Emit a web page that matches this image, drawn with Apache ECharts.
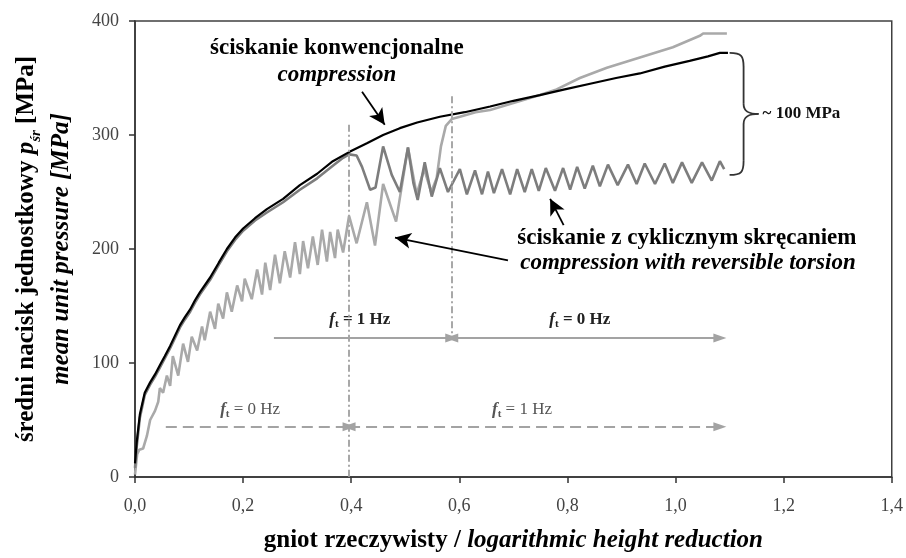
<!DOCTYPE html>
<html lang="pl">
<head>
<meta charset="UTF-8">
<title>Nacisk jednostkowy - gniot</title>
<script src="https://cdn.jsdelivr.net/npm/echarts@6/dist/echarts.min.js"></script>
<style>
    html, body { margin: 0; background: #fff; }
    #main { width: 906px; height: 558px; }
</style>
</head>
<body>
<div id="main"></div>
<script>
// x: logarithmic height reduction, y: mean unit pressure [MPa]
var compression = [
    [0.000, 12], [0.003, 30], [0.009, 55], [0.018, 74], [0.028, 83], [0.037, 90], [0.046, 98],
    [0.055, 106], [0.065, 115], [0.074, 124], [0.083, 133], [0.092, 140], [0.102, 147],
    [0.111, 155], [0.120, 162], [0.139, 175], [0.155, 188], [0.170, 200], [0.185, 210],
    [0.200, 218], [0.222, 227], [0.244, 235], [0.274, 244], [0.305, 256], [0.337, 266],
    [0.366, 277], [0.396, 285], [0.430, 293], [0.459, 300], [0.490, 306], [0.522, 311],
    [0.564, 316], [0.610, 320], [0.657, 325], [0.700, 330], [0.749, 335], [0.795, 340],
    [0.842, 345], [0.890, 350], [0.934, 354], [0.980, 360], [1.026, 365], [1.060, 369],
    [1.082, 372], [1.097, 372]
];

// ft = 0 Hz up to 0.4, then 1 Hz
var torsionLate = [
    [0.000, 8], [0.003, 26], [0.009, 52], [0.018, 72], [0.028, 81], [0.037, 88], [0.046, 96],
    [0.055, 104], [0.065, 113], [0.074, 122], [0.083, 131], [0.092, 138], [0.102, 145],
    [0.111, 153], [0.120, 160], [0.139, 173], [0.155, 186], [0.170, 198], [0.185, 208],
    [0.200, 216], [0.222, 225], [0.244, 232], [0.274, 241], [0.305, 252], [0.337, 262],
    [0.366, 273], [0.385, 280], [0.396, 283], [0.410, 282], [0.420, 272], [0.435, 252],
    [0.445, 254], [0.459, 290], [0.475, 265], [0.490, 250], [0.505, 289], [0.515, 258],
    [0.523, 243], [0.536, 276], [0.549, 246], [0.564, 271], [0.579, 250], [0.601, 270],
    [0.614, 248], [0.629, 269], [0.642, 248], [0.653, 268], [0.664, 249], [0.679, 270],
    [0.694, 248], [0.707, 270], [0.721, 250], [0.734, 270], [0.747, 251], [0.760, 271],
    [0.777, 251], [0.792, 271], [0.805, 252], [0.818, 272], [0.832, 253], [0.847, 273],
    [0.860, 255], [0.875, 274], [0.893, 256], [0.912, 274], [0.928, 257], [0.943, 275],
    [0.962, 257], [0.980, 275], [0.995, 258], [1.012, 276], [1.030, 258], [1.049, 276],
    [1.067, 260], [1.082, 277], [1.090, 270]
];

// ft = 1 Hz up to 0.585, then 0 Hz
var torsionEarly = [
    [0.000, 2], [0.004, 20], [0.008, 24], [0.015, 25], [0.022, 36], [0.028, 50], [0.037, 58],
    [0.043, 66], [0.046, 78], [0.052, 74], [0.059, 89], [0.065, 80], [0.070, 106], [0.080, 89],
    [0.089, 117], [0.098, 101], [0.105, 123], [0.115, 111], [0.124, 132], [0.129, 120],
    [0.139, 145], [0.148, 130], [0.154, 152], [0.163, 139], [0.170, 162], [0.179, 145],
    [0.189, 168], [0.198, 154], [0.203, 174], [0.216, 156], [0.226, 182], [0.235, 160],
    [0.241, 188], [0.250, 164], [0.259, 195], [0.268, 170], [0.277, 198], [0.287, 175],
    [0.296, 206], [0.305, 178], [0.311, 207], [0.320, 183], [0.329, 211], [0.338, 186],
    [0.346, 217], [0.355, 189], [0.361, 215], [0.370, 192], [0.375, 217], [0.385, 197],
    [0.396, 229], [0.410, 205], [0.429, 241], [0.444, 203], [0.459, 257], [0.483, 224],
    [0.505, 289], [0.521, 248], [0.535, 270], [0.548, 250], [0.558, 262], [0.566, 290],
    [0.575, 308], [0.586, 314], [0.601, 316], [0.630, 320], [0.657, 322], [0.700, 328],
    [0.749, 335], [0.780, 340], [0.823, 350], [0.873, 359], [0.934, 368], [0.995, 377],
    [1.045, 387], [1.051, 389], [1.095, 389]
];

var switchPoints = [0.396, 0.586];   // change of torsion frequency
var rangeEnd = 1.082;
var gapEnds = [372, 265];            // curve ends spanned by the brace

var serif = '"Liberation Serif", "DejaVu Serif", serif';

var grey = '#a3a3a3';
var arrowLine = function (from, to, symFrom, symTo, dashed) {
    return [
        { coord: from, symbol: symFrom, symbolSize: [9, 13],
          lineStyle: { color: grey, width: 2, type: dashed ? [11, 6] : 'solid' } },
        { coord: to, symbol: symTo, symbolSize: [9, 13] }
    ];
};

var markLines = [
    // dash-dot guides
    [{ coord: [switchPoints[0], 309], symbol: 'none',
       lineStyle: { color: '#a8a8a8', width: 2, type: [7, 3, 2, 3] } },
     { coord: [switchPoints[0], 0], symbol: 'none' }],
    [{ coord: [switchPoints[1], 334], symbol: 'none',
       lineStyle: { color: '#a8a8a8', width: 2, type: [7, 3, 2, 3] } },
     { coord: [switchPoints[1], 122], symbol: 'none' }],
    // frequency ranges
    arrowLine([0.257, 122], [switchPoints[1], 122], 'none', 'triangle', false),
    arrowLine([switchPoints[1], 122], [rangeEnd, 122], 'triangle', 'triangle', false),
    arrowLine([0.057, 44], [switchPoints[0], 44], 'none', 'triangle', true),
    arrowLine([switchPoints[0], 44], [rangeEnd, 44], 'triangle', 'triangle', true),
    // black pointers
    [{ coord: [0.420, 338], symbol: 'none', lineStyle: { color: '#000', width: 1.8, type: 'solid' } },
     { coord: [0.462, 309], symbol: 'arrow', symbolSize: [12, 16] }],
    [{ coord: [0.690, 190], symbol: 'none', lineStyle: { color: '#000', width: 1.8, type: 'solid' } },
     { coord: [0.481, 210], symbol: 'arrow', symbolSize: [12, 16] }],
    [{ coord: [0.793, 221], symbol: 'none', lineStyle: { color: '#000', width: 1.8, type: 'solid' } },
     { coord: [0.768, 244], symbol: 'arrow', symbolSize: [12, 16] }]
];

var chart = echarts.init(document.getElementById('main'));

var option = {
    animation: false,
    backgroundColor: '#fff',
    grid: {
        left: 135, right: 14, top: 21, bottom: 79,
        show: true, borderColor: '#404040', borderWidth: 1.5, backgroundColor: 'transparent'
    },
    xAxis: {
        type: 'value', min: 0, max: 1.4, interval: 0.2,
        axisLine: { lineStyle: { color: '#333', width: 1.5 } },
        axisTick: { length: 6, lineStyle: { color: '#333', width: 1.5 } },
        axisLabel: {
            margin: 20, color: '#444', fontFamily: serif, fontSize: 18,
            formatter: function (v) { return v.toFixed(1).replace('.', ','); }
        },
        splitLine: { show: false },
        name: '{a|gniot rzeczywisty / }{b|logarithmic height reduction}',
        nameLocation: 'middle', nameGap: 51,
        nameTextStyle: {
            rich: {
                a: { fontFamily: serif, fontSize: 25, fontWeight: 'bold', color: '#000' },
                b: { fontFamily: serif, fontSize: 25, fontWeight: 'bold', fontStyle: 'italic', color: '#000' }
            }
        }
    },
    yAxis: {
        type: 'value', min: 0, max: 400, interval: 100,
        axisLine: { show: true, lineStyle: { color: '#333', width: 1.5 } },
        axisTick: { show: true, length: 6, lineStyle: { color: '#333', width: 1.5 } },
        axisLabel: { margin: 16, color: '#444', fontFamily: serif, fontSize: 18 },
        splitLine: { show: false },
        name: '{a|średni nacisk jednostkowy }{p|p}{s|śr}{a| [MPa]}\n{b|mean unit pressure [MPa]}',
        nameLocation: 'middle', nameRotate: 90, nameGap: 56,
        nameTextStyle: {
            rich: {
                a: { fontFamily: serif, fontSize: 25, fontWeight: 'bold', color: '#000', lineHeight: 35 },
                p: { fontFamily: serif, fontSize: 25, fontWeight: 'bold', fontStyle: 'italic', color: '#000', lineHeight: 35 },
                s: { fontFamily: serif, fontSize: 15, fontWeight: 'bold', fontStyle: 'italic', color: '#000',
                     lineHeight: 22, verticalAlign: 'bottom' },
                b: { fontFamily: serif, fontSize: 25, fontWeight: 'bold', fontStyle: 'italic', color: '#000', lineHeight: 35 }
            }
        }
    },
    series: [
        {
            name: 'ft 1 Hz -> 0 Hz', type: 'line', data: torsionEarly, showSymbol: false,
            lineStyle: { color: '#a9a9a9', width: 2.6 }, z: 2
        },
        {
            name: 'ft 0 Hz -> 1 Hz', type: 'line', data: torsionLate, showSymbol: false,
            lineStyle: { color: '#7d7d7d', width: 2.6 }, z: 3
        },
        {
            name: 'compression', type: 'line', data: compression, showSymbol: false,
            lineStyle: { color: '#000', width: 2.2 }, z: 4,
            markLine: {
                silent: true, animation: false,
                label: { show: false },
                emphasis: { disabled: true },
                symbol: ['none', 'none'],
                data: markLines
            }
        }
    ]
};
chart.setOption(option);

function px(p) { return chart.convertToPixel({ gridIndex: 0 }, p); }

var ftRich = function (bold, color) {
    var w = bold ? 'bold' : 'normal';
    return {
        f: { fontFamily: serif, fontSize: 17, fontWeight: 'bold', fontStyle: 'italic', fill: color, lineHeight: 20 },
        t: { fontFamily: serif, fontSize: 11, fontWeight: 'bold', fill: color, lineHeight: 14, verticalAlign: 'bottom' },
        r: { fontFamily: serif, fontSize: 17, fontWeight: w, fill: color, lineHeight: 20 }
    };
};

function label(at, text, style) {
    var p = px(at);
    return {
        type: 'text', x: p[0], y: p[1], silent: true,
        style: Object.assign({ text: text, align: 'center', verticalAlign: 'middle', fill: '#000',
                               fontFamily: serif }, style)
    };
}

var bold = { fontSize: 23, fontWeight: 'bold' };
var boldItalic = { fontSize: 23, fontWeight: 'bold', fontStyle: 'italic' };

var graphics = [
    label([0.3735, 376], 'ściskanie konwencjonalne', bold),
    label([0.3735, 353], 'compression', boldItalic),
    label([1.021, 210], 'ściskanie z cyklicznym skręcaniem', bold),
    label([1.023, 188], 'compression with reversible torsion', boldItalic),
    label([0.416, 138], '{f|f}{t|t}{r| = 1 Hz}', { rich: ftRich(true, '#222') }),
    label([0.823, 138], '{f|f}{t|t}{r| = 0 Hz}', { rich: ftRich(true, '#222') }),
    label([0.213, 59], '{f|f}{t|t}{r| = 0 Hz}', { rich: ftRich(false, '#555') }),
    label([0.716, 59], '{f|f}{t|t}{r| = 1 Hz}', { rich: ftRich(false, '#555') })
];

// brace spanning the gap between the curve ends
var braceTop = px([1.100, gapEnds[0]]);
var braceBot = px([1.100, gapEnds[1]]);
var bx0 = braceTop[0], bx1 = bx0 + 14, bTip = bx0 + 29;
var yT = braceTop[1], yB = braceBot[1], yM = (yT + yB) / 2;
var braceStyle = { stroke: '#333', lineWidth: 1.8, fill: 'none' };
graphics.push(
    { type: 'bezierCurve', silent: true, style: braceStyle,
      shape: { x1: bx0, y1: yT, cpx1: bx1 - 2, cpy1: yT, cpx2: bx1, cpy2: yT + 3, x2: bx1, y2: yT + 14 } },
    { type: 'line', silent: true, style: braceStyle, shape: { x1: bx1, y1: yT + 14, x2: bx1, y2: yM - 10 } },
    { type: 'bezierCurve', silent: true, style: braceStyle,
      shape: { x1: bx1, y1: yM - 10, cpx1: bx1, cpy1: yM - 2, cpx2: bx1 + 6, cpy2: yM, x2: bTip, y2: yM } },
    { type: 'bezierCurve', silent: true, style: braceStyle,
      shape: { x1: bTip, y1: yM, cpx1: bx1 + 6, cpy1: yM, cpx2: bx1, cpy2: yM + 2, x2: bx1, y2: yM + 10 } },
    { type: 'line', silent: true, style: braceStyle, shape: { x1: bx1, y1: yM + 10, x2: bx1, y2: yB - 14 } },
    { type: 'bezierCurve', silent: true, style: braceStyle,
      shape: { x1: bx1, y1: yB - 14, cpx1: bx1, cpy1: yB - 3, cpx2: bx1 - 2, cpy2: yB, x2: bx0, y2: yB } },
    { type: 'text', x: bTip + 4, y: yM, silent: true,
      style: { text: '~ 100 MPa', align: 'left', verticalAlign: 'middle', fill: '#111',
               fontFamily: serif, fontSize: 17, fontWeight: 'bold' } }
);

chart.setOption({ graphic: graphics });
</script>
</body>
</html>
